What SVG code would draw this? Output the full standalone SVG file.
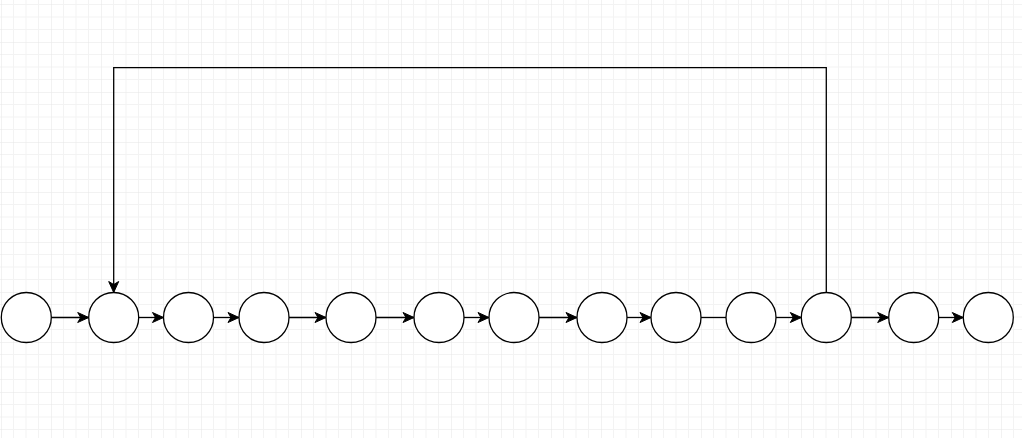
<svg xmlns="http://www.w3.org/2000/svg" width="1022" height="438" viewBox="0 0 1022 438">
<style>
.node{fill:#ffffff;stroke:#000000;stroke-width:1.3}
.edge{fill:none;stroke:#000000;stroke-width:1.3}
</style>
<defs>
<pattern id="grid" x="1" y="-8" width="50" height="50" patternUnits="userSpaceOnUse">
<path d="M12.5 0V50M25 0V50M37.5 0V50M0 12.5H50M0 25H50M0 37.5H50" stroke="#f3f3f3" stroke-width="1" fill="none"/>
<path d="M0 0V50M0 0H50" stroke="#e6e6e6" stroke-width="1" fill="none"/>
</pattern>
<marker id="arr" markerUnits="userSpaceOnUse" markerWidth="14" markerHeight="12" viewBox="-12 -6 14 12" refX="0" refY="0" orient="auto">
<path d="M0 0L-11 -5L-8 0L-11 5Z" fill="#000000" stroke="#000000" stroke-width="1"/>
</marker>
</defs>
<rect width="1022" height="438" fill="#ffffff"/>
<rect width="1022" height="438" fill="url(#grid)"/>
<g id="connectors">
<path class="edge" d="M51.3 317.5H88.7" marker-end="url(#arr)"/>
<path class="edge" d="M138.7 317.5H163.5" marker-end="url(#arr)"/>
<path class="edge" d="M213.5 317.5H239" marker-end="url(#arr)"/>
<path class="edge" d="M289 317.5H326" marker-end="url(#arr)"/>
<path class="edge" d="M376 317.5H414" marker-end="url(#arr)"/>
<path class="edge" d="M464 317.5H489" marker-end="url(#arr)"/>
<path class="edge" d="M539 317.5H577" marker-end="url(#arr)"/>
<path class="edge" d="M627 317.5H651" marker-end="url(#arr)"/>
<path class="edge" d="M701 317.5H726"/>
<path class="edge" d="M776 317.5H801.3" marker-end="url(#arr)"/>
<path class="edge" d="M851.3 317.5H888.7" marker-end="url(#arr)"/>
<path class="edge" d="M938.7 317.5H963.3" marker-end="url(#arr)"/>
<path class="edge" d="M826.3 292.5V67.7H113.7V292.5" marker-end="url(#arr)"/>
</g>
<g id="n1"><circle class="node" cx="26.3" cy="317.5" r="25"/></g>
<g id="n2"><circle class="node" cx="113.7" cy="317.5" r="25"/></g>
<g id="n3"><circle class="node" cx="188.5" cy="317.5" r="25"/></g>
<g id="n4"><circle class="node" cx="264" cy="317.5" r="25"/></g>
<g id="n5"><circle class="node" cx="351" cy="317.5" r="25"/></g>
<g id="n6"><circle class="node" cx="439" cy="317.5" r="25"/></g>
<g id="n7"><circle class="node" cx="514" cy="317.5" r="25"/></g>
<g id="n8"><circle class="node" cx="602" cy="317.5" r="25"/></g>
<g id="n9"><circle class="node" cx="676" cy="317.5" r="25"/></g>
<g id="n10"><circle class="node" cx="751" cy="317.5" r="25"/></g>
<g id="n11"><circle class="node" cx="826.3" cy="317.5" r="25"/></g>
<g id="n12"><circle class="node" cx="913.7" cy="317.5" r="25"/></g>
<g id="n13"><circle class="node" cx="988.3" cy="317.5" r="25"/></g>
</svg>
